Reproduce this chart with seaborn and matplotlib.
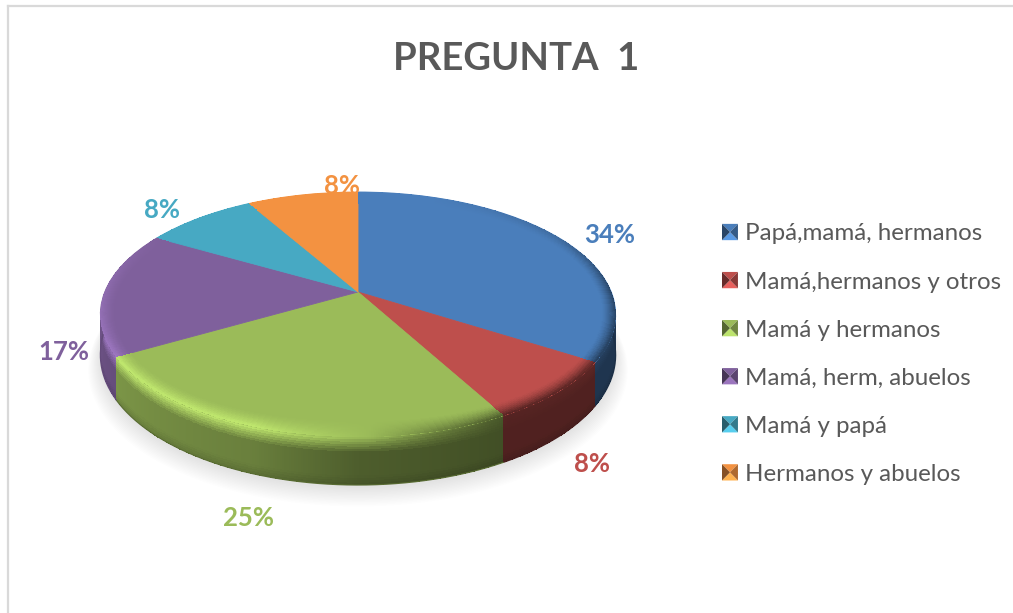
import numpy as np
import matplotlib
matplotlib.use("Agg")
import matplotlib.pyplot as plt
import matplotlib.transforms as mtransforms
from matplotlib.colors import to_rgb
from matplotlib.legend_handler import HandlerPatch
from matplotlib.patches import Polygon, Wedge
import seaborn as sns

categories = ["Papá,mamá, hermanos", "Mamá,hermanos y otros", "Mamá y hermanos",
              "Mamá, herm, abuelos", "Mamá y papá", "Hermanos y abuelos"]
values = [34, 8, 24.7, 16.6, 8.4, 8.3]
value_labels = ["34%", "8%", "25%", "17%", "8%", "8%"]
hex_colors = ["#4a7ebb", "#be4f4c", "#9bbb59", "#7f609c", "#47a9c3", "#f39241"]
title_text = "PREGUNTA  1"

sns.set_theme(style="white")
plt.rcParams["font.family"] = ["Lato", "DejaVu Sans"]
palette = sns.color_palette(hex_colors)

# projection of the unit disc onto the picture
CX, CY, A, B, C, D0 = 358.0, 292.0, 253.3, 118.4, 0.1837, 39.2


class Perspective(mtransforms.Transform):
    input_dims = output_dims = 2
    is_separable = False
    has_inverse = False

    def transform_non_affine(self, v):
        v = np.asarray(v, float)
        w = 1 + C * v[:, 1]
        return np.column_stack([CX + A * v[:, 0] / w, CY - B * v[:, 1] / w])


def project(x, y):
    w = 1 + C * y
    return CX + A * x / w, CY - B * y / w


def rim_factor(t):
    return np.interp(t, [0, 20, 60, 90, 150, 165, 178, 200, 241, 270, 300, 360],
                     [1, 1, .85, .55, .45, .7, 1.0, 1.24, 1.24, 1.12, 1.0, 1.0])


def side_factor(t):
    return np.interp(t, [90, 151, 180, 200, 241, 270], [.42, .42, .5, .68, .8, .88])


fig = plt.figure(figsize=(10.13, 6.13), dpi=100)
ax = fig.add_axes([8 / 1013, 0, 1 - 8 / 1013, 1 - 6 / 613])
persp = Perspective()

wedges, _ = ax.pie(values, colors=palette, startangle=90, counterclock=False,
                   radius=1, center=(0, 0),
                   wedgeprops=dict(linewidth=0.6, zorder=5))
for w_, col in zip(wedges, palette):
    w_.set_edgecolor(col)
    w_.set_transform(persp + ax.transData)

ax.set_aspect("auto")
ax.set_xlim(8, 1013)
ax.set_ylim(613, 6)
ax.set_xticks([])
ax.set_yticks([])
ax.set_frame_on(True)
for name, sp in ax.spines.items():
    sp.set_visible(name in ("left", "top"))
    sp.set_color("#d9d9d9")
    sp.set_linewidth(1.6)

# soft shadow under the pie
circle = np.linspace(0, 2 * np.pi, 240)
for k in range(14):
    s = 1.0 + 0.0035 * k
    sx, sy = s * np.cos(circle), s * np.sin(circle)
    px, py = project(sx, sy)
    ax.fill(px, py + D0 / (1 + C * sy) + 3 + 0.75 * k, color="black", alpha=0.009,
            lw=0, zorder=1)

# side wall and bevelled rim of each slice
edges = np.cumsum([0] + values) / sum(values) * 360
for i, col in enumerate(palette):
    base = np.array(to_rgb(col))
    t = np.linspace(edges[i], edges[i + 1], max(int(values[i] * 8), 12))
    tm = 0.5 * (t[:-1] + t[1:])
    rad = np.radians(t)
    ux, uy = np.sin(rad), np.cos(rad)
    rx, ry = project(ux, uy)

    # side wall
    vs = np.linspace(0, 1, 21)
    depth = D0 / (1 + C * uy)
    Xs = np.tile(rx, (len(vs), 1))
    Ys = np.outer(vs, depth) + ry
    vm = 0.5 * (vs[:-1] + vs[1:])
    rf, sf = rim_factor(tm), side_factor(tm)
    Cs = np.zeros((len(vm), len(tm), 4))
    for j, v in enumerate(vm):
        mix = np.clip(v / 0.32, 0, 1)
        fac = rf * (1 - mix) + sf * mix
        fac = fac * (1 - 0.12 * max(v - 0.8, 0) / 0.2)
        Cs[j, :, :3] = np.clip(np.outer(fac, base), 0, 1)
    Cs[..., 3] = 1
    ax.pcolormesh(Xs, Ys, Cs, shading="flat", zorder=3 + 0.01 * i, antialiased=False)
    ax.plot(rx, ry + depth, color=np.clip(base * side_factor(t[len(t) // 2]) * .9, 0, 1),
            lw=0.8, zorder=3.5, solid_capstyle="round")

    # bevel band on the top face
    L = np.hypot(rx - CX, ry - CY)
    us = np.linspace(0, 1, 15)
    Xb = np.zeros((len(us), len(t)))
    Yb = np.zeros((len(us), len(t)))
    for j, u in enumerate(us):
        r = 1 - (1 - u) * 14 / L
        Xb[j], Yb[j] = project(r * ux, r * uy)
    um = 0.5 * (us[:-1] + us[1:])
    Cb = np.zeros((len(um), len(tm), 4))
    for j, u in enumerate(um):
        fac = 1 + (rf - 1) * u ** 1.5
        Cb[j, :, :3] = np.clip(np.outer(fac, base), 0, 1)
    Cb[..., 3] = 1
    ax.pcolormesh(Xb, Yb, Cb, shading="flat", zorder=6, antialiased=False)

# percentage labels
label_pos = [(610, 235), (592, 464), (249, 518), (64, 352), (162, 210), (342, 186)]
for txt, col, (lx, ly) in zip(value_labels, palette, label_pos):
    ax.text(lx, ly, txt, color=col, fontsize=18.5, fontweight="bold",
            ha="center", va="center", zorder=8)

ax.text(516, 59, title_text, color="#595959", fontsize=27.5, fontweight="bold",
        ha="center", va="center", zorder=8)


class BevelHandler(HandlerPatch):
    def create_artists(self, legend, orig, xd, yd, w, h, fontsize, trans):
        x0, y0 = -xd, -yd
        base = np.array(to_rgb(orig.get_facecolor()[:3]))
        cx, cy = x0 + w / 2, y0 + h / 2
        a, b, c, d = (x0, y0), (x0 + w, y0), (x0 + w, y0 + h), (x0, y0 + h)
        faces = [((d, c, (cx, cy)), 1.0), ((a, b, (cx, cy)), 1.22),
                 ((a, d, (cx, cy)), 0.55), ((b, c, (cx, cy)), 0.72)]
        out = []
        for pts, f in faces:
            out.append(Polygon(pts, closed=True, facecolor=np.clip(base * f, 0, 1),
                               edgecolor="none", transform=trans))
        return out


ax.legend(wedges, categories, loc="upper left", bbox_to_anchor=(722, 223.5),
          bbox_transform=ax.transData, frameon=False, fontsize=17.4,
          labelcolor="#595959", labelspacing=1.12, handlelength=0.66,
          handleheight=0.66, handletextpad=0.29, borderpad=0, borderaxespad=0,
          handler_map={Wedge: BevelHandler()})

fig.savefig("out.png", dpi=100, facecolor="white")
